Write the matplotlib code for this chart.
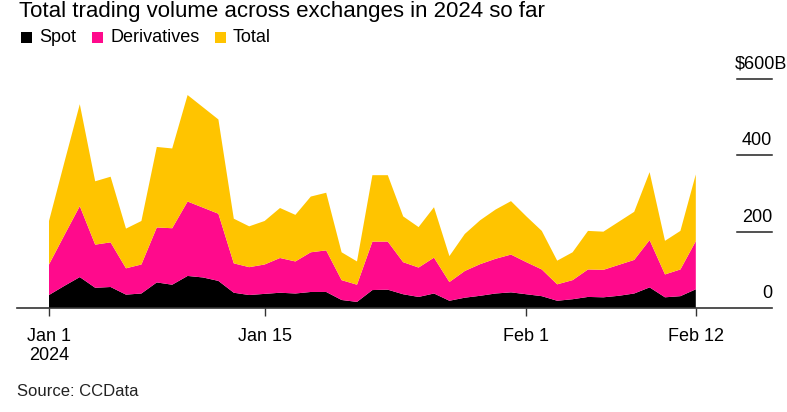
import numpy as np
import pandas as pd
import matplotlib
matplotlib.use('Agg')
import matplotlib.pyplot as plt
import matplotlib.dates as mdates
from matplotlib.patches import Rectangle

plt.rcParams['font.family'] = ['Liberation Sans', 'DejaVu Sans']

# daily volumes, $B
dates = pd.date_range('2024-01-01', '2024-02-12', freq='D')
spot = [34, 58, 81, 53, 55, 35, 38, 67, 61, 84, 80, 71, 40, 34, 37, 40, 38, 42, 42, 21,
        16, 47, 48, 36, 29, 38, 19, 27, 32, 38, 41, 36, 31, 19, 23, 29, 28, 32, 38, 54,
        28, 31, 49]
derivatives = [80, 133, 186, 113, 117, 69, 76, 144, 148, 195, 183, 176, 77, 73, 77, 91, 84, 104, 109, 52,
               45, 127, 126, 84, 77, 94, 49, 70, 83, 91, 99, 84, 70, 43, 50, 72, 72, 81, 88, 124,
               60, 70, 126]
total = [114, 191, 267, 166, 172, 104, 114, 211, 209, 279, 263, 247, 117, 107, 114, 131, 122, 146, 151, 73,
         61, 174, 174, 120, 106, 132, 68, 97, 115, 129, 140, 120, 101, 62, 73, 101, 100, 113, 126, 178,
         88, 101, 175]

series_names = ['Spot', 'Derivatives', 'Total']
colors = ['#000000', '#ff0a8c', '#ffc400']
y_ticks = [0, 200, 400, 600]
y_labels = ['0', '200', '400', '$600B']
x_ticks = ['2024-01-01', '2024-01-15', '2024-02-01', '2024-02-12']
x_labels = ['Jan 1\n2024', 'Jan 15', 'Feb 1', 'Feb 12']

W, H = 787, 412
fig = plt.figure(figsize=(W / 100, H / 100), dpi=100)
ax = fig.add_axes([17 / W, 104 / H, 755 / W, 229 / H])

x = mdates.date2num(dates)
ax.stackplot(x, spot, derivatives, total, colors=colors, linewidth=0)

d0 = x[0]
ax.set_xlim(d0 - 32 / 15.4, d0 + 723 / 15.4)
ax.set_ylim(0, 600)

for s in ['top', 'left', 'right']:
    ax.spines[s].set_visible(False)
ax.spines['bottom'].set_color('#333333')
ax.spines['bottom'].set_linewidth(1.2)
ax.spines['bottom'].set_zorder(5)

ax.set_xticks(mdates.date2num(pd.to_datetime(x_ticks)))
ax.set_xticklabels(x_labels, fontsize=13, linespacing=1.15)
ax.tick_params(axis='x', length=6, width=1, color='#333333', pad=8.5)
ax.set_yticks([])

# short gridlines and labels at right
trans = ax.get_yaxis_transform()
for v, lab in zip(y_ticks, y_labels):
    if v > 0:
        ax.plot([720 / 755, 1.0], [v, v], transform=trans, color='#222222', lw=1.1, clip_on=False)
    xo = 15 if lab.startswith('$') else 0
    ax.annotate(lab, xy=(1.0, v), xycoords=trans, xytext=(xo, 10), textcoords='offset pixels',
                ha='right', va='baseline', fontsize=13)

fig.text(19 / W, 1 - 0.5 / H, 'Total trading volume across exchanges in 2024 so far',
         ha='left', va='top', fontsize=16)

# legend
leg_x = [21, 92, 215]
for lx, name, c in zip(leg_x, series_names, colors):
    fig.patches.append(Rectangle((lx / W, 1 - 43 / H), 11 / W, 11 / H, transform=fig.transFigure,
                                 facecolor=c, edgecolor='none'))
    fig.text((lx + 18) / W, 1 - 38 / H, name, ha='left', va='center', fontsize=13)

fig.text(17 / W, 1 - 391 / H, 'Source: CCData', ha='left', va='center', fontsize=12, color='#222222')

fig.savefig('out.png', dpi=100)
